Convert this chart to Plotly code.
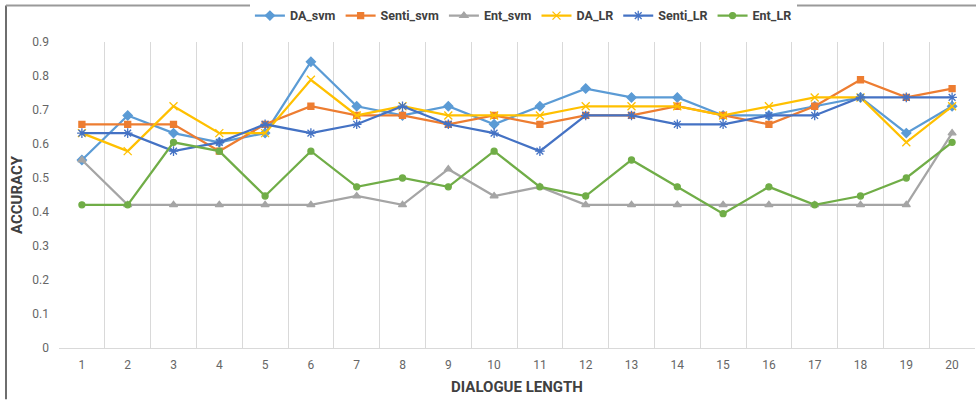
import plotly.graph_objects as go

# Dialogue length (number of turns) on the x axis
dialogue_length = list(range(1, 21))

# Accuracy per dialogue length for each feature set / classifier
da_svm = [0.553, 0.684, 0.632, 0.605, 0.632, 0.842, 0.711, 0.684, 0.711, 0.658,
          0.711, 0.763, 0.737, 0.737, 0.684, 0.684, 0.711, 0.737, 0.632, 0.711]
senti_svm = [0.658, 0.658, 0.658, 0.579, 0.658, 0.711, 0.684, 0.684, 0.658, 0.684,
             0.658, 0.684, 0.684, 0.711, 0.684, 0.658, 0.711, 0.789, 0.737, 0.763]
ent_svm = [0.553, 0.421, 0.421, 0.421, 0.421, 0.421, 0.447, 0.421, 0.526, 0.447,
           0.474, 0.421, 0.421, 0.421, 0.421, 0.421, 0.421, 0.421, 0.421, 0.632]
da_lr = [0.632, 0.579, 0.711, 0.632, 0.632, 0.789, 0.684, 0.711, 0.684, 0.684,
         0.684, 0.711, 0.711, 0.711, 0.684, 0.711, 0.737, 0.737, 0.605, 0.711]
senti_lr = [0.632, 0.632, 0.579, 0.605, 0.658, 0.632, 0.658, 0.711, 0.658, 0.632,
            0.579, 0.684, 0.684, 0.658, 0.658, 0.684, 0.684, 0.737, 0.737, 0.737]
ent_lr = [0.421, 0.421, 0.605, 0.579, 0.447, 0.579, 0.474, 0.500, 0.474, 0.579,
          0.474, 0.447, 0.553, 0.474, 0.395, 0.474, 0.421, 0.447, 0.500, 0.605]

y_ticks = [0, 0.1, 0.2, 0.3, 0.4, 0.5, 0.6, 0.7, 0.8, 0.9]
y_tick_text = ["0", "0.1", "0.2", "0.3", "0.4", "0.5", "0.6", "0.7", "0.8", "0.9"]

series = [
    ("DA_svm", da_svm, "#5B9BD5", "diamond", 7),
    ("Senti_svm", senti_svm, "#ED7D31", "square", 6),
    ("Ent_svm", ent_svm, "#A5A5A5", "triangle-up", 7),
    ("DA_LR", da_lr, "#FFC000", "x-thin-open", 8),
    ("Senti_LR", senti_lr, "#4472C4", "asterisk-open", 8),
    ("Ent_LR", ent_lr, "#70AD47", "circle", 6),
]

FONT = "Liberation Sans Narrow, Arial Narrow, Roboto, sans-serif"

fig = go.Figure()
for name, values, color, symbol, size in series:
    fig.add_trace(go.Scatter(
        x=dialogue_length,
        y=values,
        name=name,
        mode="lines+markers",
        line=dict(color=color, width=2.25),
        marker=dict(symbol=symbol, size=size, color=color,
                    line=dict(color=color, width=1.3)),
    ))

fig.update_layout(
    width=976,
    height=400,
    margin=dict(l=59, r=1, t=38, b=52),
    paper_bgcolor="white",
    plot_bgcolor="white",
    font=dict(family=FONT, color="#595959", size=12),
    legend=dict(
        orientation="h",
        x=0.507, xanchor="center",
        y=1.085, yanchor="middle",
        font=dict(family=FONT, size=12.5, color="#404040", weight="bold"),
        itemwidth=30,
        tracegroupgap=0,
    ),
    xaxis=dict(
        range=[0.5, 20.5],
        tickmode="array",
        tickvals=dialogue_length,
        ticktext=[str(v) for v in dialogue_length],
        showgrid=False,
        zeroline=False,
        showline=True,
        linecolor="#D9D9D9",
        linewidth=1,
        ticks="",
        ticklabelstandoff=6,
        tickfont=dict(size=12, color="#666666"),
        minor=dict(tick0=0.5, dtick=1, showgrid=True,
                   gridcolor="#D9D9D9", gridwidth=1, ticks=""),
        title=dict(text="DIALOGUE LENGTH", standoff=10,
                   font=dict(family=FONT, size=15, color="#404040", weight="bold")),
    ),
    yaxis=dict(
        range=[0, 0.9],
        tickmode="array",
        tickvals=y_ticks,
        ticktext=y_tick_text,
        showgrid=False,
        zeroline=False,
        showline=False,
        ticks="",
        ticklabelstandoff=9,
        tickfont=dict(size=12, color="#666666"),
        title=dict(text="ACCURACY", standoff=6,
                   font=dict(family=FONT, size=15, color="#404040", weight="bold")),
    ),
)

# Chart frame (left and top edges)
fig.add_shape(type="line", xref="paper", yref="paper",
              x0=(6 - 59) / 916, x1=(6 - 59) / 916, y0=-52 / 310, y1=1 + 37 / 310,
              line=dict(color="#6E6E6E", width=2))
fig.add_shape(type="line", xref="paper", yref="paper",
              x0=(6 - 59) / 916, x1=1.01, y0=1 + 37 / 310, y1=1 + 37 / 310,
              line=dict(color="#9A9A9A", width=2))

fig.write_html("out.html")
